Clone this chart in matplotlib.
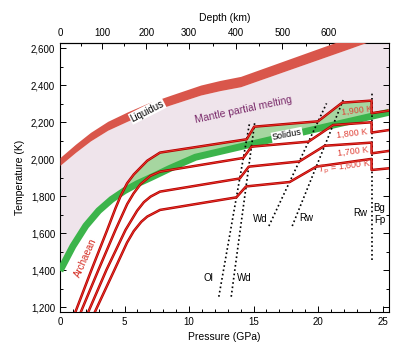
import numpy as np
import matplotlib
matplotlib.use('Agg')
from matplotlib import pyplot as plt
from matplotlib.ticker import MultipleLocator, FuncFormatter, FixedLocator

plt.rcParams['font.family'] = ['Liberation Sans', 'DejaVu Sans']
plt.rcParams['font.size'] = 7

# --- liquidus band (pressure GPa, temperature K) ---
liq_p = [0, 1.2, 2.36, 3.7, 5.2, 6.8, 8.57, 10.9, 12.4, 14.0, 22.5, 25.5]
liq_lo = [1967, 2037, 2099, 2157, 2205, 2253, 2294, 2347, 2371, 2392, 2600, 2675]
liq_hi = [2009, 2081, 2145, 2205, 2255, 2303, 2346, 2401, 2426, 2448, 2660, 2735]

# --- solidus (centre of green band) ---
sol_p = [0, 1, 2, 3, 4, 5, 6, 7, 8.5, 10.5, 14, 17, 20, 22.5, 25.5]
sol_t = [1397, 1530, 1640, 1722, 1783, 1830, 1868, 1900, 1950, 2011, 2068, 2117, 2166, 2206, 2254]

# --- mantle adiabats (Tp = 1,900 / 1,800 / 1,700 / 1,600 K) ---
ad1900_p = [1.06, 2.44, 3.66, 4.3, 4.69, 5.2, 5.72, 6.76, 7.75, 14.47, 15.05, 20.0, 21.87, 24.15, 24.15, 25.5]
ad1900_t = [1150, 1402, 1618, 1735, 1800, 1870, 1918, 1992, 2036, 2108, 2176, 2205, 2306, 2317, 2249, 2263]
ad1800_p = [1.47, 2.98, 4.30, 5.21, 5.7, 6.24, 7.0, 7.75, 14.21, 14.84, 19.26, 21.17, 24.15, 24.15, 25.5]
ad1800_t = [1150, 1402, 1618, 1758, 1815, 1865, 1910, 1933, 2007, 2068, 2095, 2185, 2200, 2144, 2158]
ad1700_p = [2.04, 3.6, 5.08, 5.98, 6.5, 7.02, 7.75, 13.93, 14.63, 18.55, 20.52, 24.15, 24.15, 25.5]
ad1700_t = [1150, 1402, 1618, 1722, 1768, 1798, 1825, 1896, 1960, 1988, 2073, 2090, 2032, 2045]
ad1600_p = [2.54, 4.22, 5.2, 5.72, 6.3, 6.76, 7.75, 13.67, 14.42, 17.8, 19.86, 24.15, 24.15, 25.5]
ad1600_t = [1150, 1402, 1550, 1612, 1662, 1690, 1726, 1794, 1853, 1877, 1960, 2002, 1942, 1951]

# --- phase boundaries (dotted) ---
bnd_ol_p, bnd_ol_t = [12.31, 14.71], [1257, 2203]
bnd_wd_p, bnd_wd_t = [13.27, 15.10], [1257, 2203]
bnd_wd2_p, bnd_wd2_t = [16.19, 20.66], [1639, 2302]
bnd_rw_p, bnd_rw_t = [18.0, 21.95], [1639, 2320]
bnd_ps_p, bnd_ps_t = [24.15, 24.15], [1456, 2365]

# depth axis (km) vs pressure (GPa)
depth_km = [0, 100, 200, 300, 400, 500, 600, 700, 800]
depth_p = [0, 3.27, 6.68, 9.98, 13.66, 17.22, 20.84, 24.4, 28.0]

fig = plt.figure(figsize=(4.0, 3.55), dpi=100)
ax = fig.add_axes([0.15, 0.122, 0.8225, 0.7577])

# mantle partial melting field
pg = np.linspace(0, 25.5, 600)
ax.fill_between(pg, np.interp(pg, sol_p, sol_t), np.interp(pg, liq_p, liq_lo),
                color='#efe4eb', lw=0, zorder=1)

# melt region of the hottest adiabat
pa = np.linspace(0, 24.15, 600)
a19 = np.interp(pa, ad1900_p[:14], ad1900_t[:14])
s19 = np.interp(pa, sol_p, sol_t)
ax.fill_between(pa, s19, a19, where=a19 > s19, color='#a6d6a0', lw=0, zorder=2)

# liquidus
ax.fill_between(liq_p, liq_lo, liq_hi, color='#d9564b', lw=0, zorder=3)
# solidus
ax.plot(sol_p, sol_t, color='#3cb44b', lw=5, solid_capstyle='butt', zorder=3)

# phase boundaries
for bp, bt in [(bnd_ol_p, bnd_ol_t), (bnd_wd_p, bnd_wd_t), (bnd_wd2_p, bnd_wd2_t),
               (bnd_rw_p, bnd_rw_t), (bnd_ps_p, bnd_ps_t)]:
    ax.plot(bp, bt, color='black', lw=1.2, ls=(0, (1, 1.6)), zorder=4)

# adiabats: dark red outline with lighter core
for ap, at in [(ad1900_p, ad1900_t), (ad1800_p, ad1800_t),
               (ad1700_p, ad1700_t), (ad1600_p, ad1600_t)]:
    ax.plot(ap, at, color='#b00000', lw=1.8, zorder=5)
    ax.plot(ap, at, color='#f0392e', lw=0.6, zorder=5)

# labels
ax.text(6.76, 2261, 'Liquidus', rotation=27, ha='center', va='center', fontsize=7,
        bbox=dict(facecolor='white', edgecolor='none', pad=0.6), zorder=6)
ax.text(14.2, 2266, 'Mantle partial melting', rotation=12, ha='center', va='center',
        fontsize=7.5, color='#7a2a6a', zorder=6)
ax.text(17.6, 2131, 'Solidus', rotation=11, ha='center', va='center', fontsize=6.5,
        bbox=dict(facecolor='white', edgecolor='none', pad=0.6), zorder=6)
ax.text(23.0, 2266, '1,900 K', rotation=7, ha='center', va='center', fontsize=6.5, color='#e0443a', zorder=6)
ax.text(22.65, 2140, '1,800 K', rotation=7, ha='center', va='center', fontsize=6.5, color='#e0443a', zorder=6)
ax.text(22.67, 2041, '1,700 K', rotation=7, ha='center', va='center', fontsize=6.5, color='#e0443a', zorder=6)
ax.text(22.05, 1957, r'$T_\mathrm{p}$ = 1,600 K', rotation=7, ha='center', va='center',
        fontsize=6.5, color='#e0443a', zorder=6)
ax.text(1.98, 1466, 'Archaean', rotation=66, ha='center', va='center', fontsize=7, color='#d42a20', zorder=6)
for s, p, t in [('Ol', 11.53, 1357), ('Wd', 14.25, 1357), ('Wd', 15.49, 1676),
                ('Rw', 19.1, 1681), ('Rw', 23.3, 1711), ('Bg', 24.77, 1738), ('Fp', 24.77, 1672)]:
    ax.text(p, t, s, ha='center', va='center', fontsize=7, zorder=6)

ax.set_xlim(0, 25.5)
ax.set_ylim(1176, 2630)
ax.xaxis.set_major_locator(MultipleLocator(5))
ax.xaxis.set_minor_locator(MultipleLocator(1))
ax.yaxis.set_major_locator(MultipleLocator(200))
ax.yaxis.set_minor_locator(MultipleLocator(100))
ax.yaxis.set_major_formatter(FuncFormatter(lambda v, pos: '{:,.0f}'.format(v)))
ax.tick_params(which='both', direction='in', top=False, right=True, width=0.7, labelsize=7)
ax.tick_params(which='major', length=4)
ax.tick_params(which='minor', length=2.2)
for sp in ax.spines.values():
    sp.set_linewidth(0.8)
ax.set_xlabel('Pressure (GPa)', fontsize=7.5, labelpad=4)
ax.set_ylabel('Temperature (K)', fontsize=7.5, labelpad=4)

sec = ax.secondary_xaxis('top', functions=(lambda p: np.interp(p, depth_p, depth_km),
                                            lambda d: np.interp(d, depth_km, depth_p)))
sec.set_xticks(depth_km[:8], labels=[str(d) for d in depth_km[:7]] + [''])
sec.xaxis.set_minor_locator(FixedLocator([50, 150, 250, 350, 450, 550, 650, 750]))
sec.tick_params(which='both', direction='in', width=0.7, labelsize=7)
sec.tick_params(which='major', length=4)
sec.tick_params(which='minor', length=2.2)
sec.set_xlabel('Depth (km)', fontsize=7.5, labelpad=5)

fig.savefig('out.png', dpi=100)
